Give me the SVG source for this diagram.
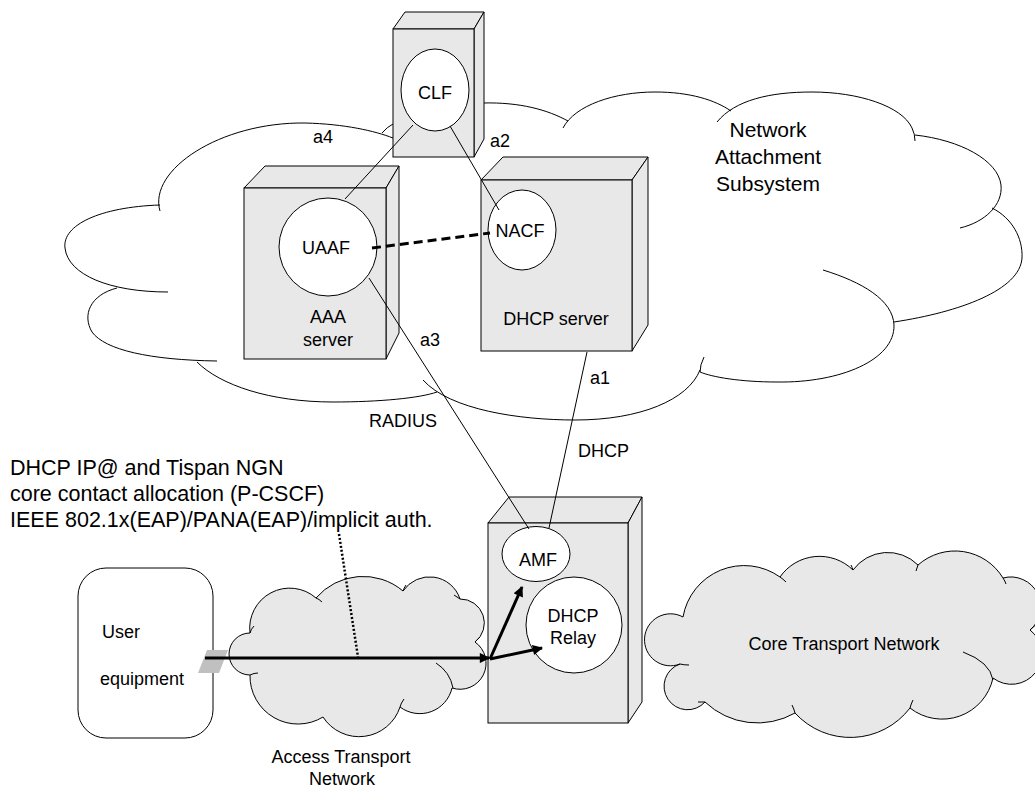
<svg xmlns="http://www.w3.org/2000/svg" width="1035" height="790" viewBox="0 0 1035 790">
<defs>
<style>
.box{fill:#e8e8e8;stroke:#000;stroke-width:1;stroke-linejoin:miter}
.fn{fill:#fff;stroke:#000;stroke-width:1}
.ln{fill:none;stroke:#000;stroke-width:1}
.cl{fill:#e8e8e8;stroke:#000;stroke-width:1}
.t{font-family:"Liberation Sans",Arial,Helvetica,sans-serif;font-size:18px;fill:#000}
.big{font-size:21px}
.note{font-size:21.5px}
.mid{text-anchor:middle}
.thick{fill:none;stroke:#000;stroke-width:3;marker-end:url(#ah)}
</style>
<marker id="ah" viewBox="0 0 10 10" refX="9" refY="5" markerWidth="4" markerHeight="3.4" orient="auto" markerUnits="strokeWidth">
<path d="M0,0 L10,5 L0,10 z" fill="#000"/>
</marker>
</defs>
<rect width="1035" height="790" fill="#fff"/>

<!-- Network Attachment Subsystem cloud -->
<g id="nas-cloud" class="ln">
<path d="M160,211 C148,170 220,122 305,123 C345,124 375,131 393,138"/>
<path d="M382,133 Q387,127 393,124"/>
<path d="M483,103 C520,102 548,110 568,121"/>
<path d="M563,128 C575,105 615,92 655,92 C690,92 715,100 731,111"/>
<path d="M717,122 C735,100 770,92 812,92 C858,92 902,106 912,128 Q915,134 915,141"/>
<path d="M915,135 C960,140 998,160 1001,185 C1003,205 985,222 960,228"/>
<path d="M992,208 C1012,218 1023,238 1022,258 C1020,290 960,312 894,322"/>
<path d="M823,270 C862,282 893,300 894,325 C895,360 840,383 777,382 C740,382 712,377 700,372 Q700,365 704,357"/>
<path d="M700,370 C688,400 640,420 575,420 C520,420 450,410 423,380"/>
<path d="M197,362 C220,385 270,402 333,402 C380,402 420,398 437,392"/>
<path d="M117,288 C90,295 82,315 92,332 C105,350 150,360 217,361"/>
<path d="M160,205 C100,207 62,225 65,248 C68,275 110,292 168,292"/>
</g>
<text class="t big mid" x="768" y="137">Network</text>
<text class="t big mid" x="768" y="164">Attachment</text>
<text class="t big mid" x="768" y="191">Subsystem</text>

<!-- Access transport cloud -->
<g id="access-cloud">
<path class="cl" d="M250,675 A21,21 0 0 1 250,633 A40,40 0 0 1 316,598 A62,62 0 0 1 403,591 A32,32 0 0 1 460,599 A24,24 0 0 1 475,642 A26,26 0 0 1 452,688 A33,33 0 0 1 400,707 A43,43 0 0 1 323,717 A48,48 0 0 1 250,675 Z"/>
<path class="ln" d="M250,633 Q251,629 254,626 M316,598 Q319,599 322,602 M403,591 Q404,588 406,585 M460,599 Q457,597 454,595 M475,642 Q477,640 480,637 M436,663 Q450,672 453,688 M400,707 Q401,703 404,699 M250,675 Q254,673 258,673"/>
<text class="t mid" x="341" y="763">Access Transport</text>
<text class="t mid" x="342" y="785">Network</text>
</g>

<!-- Core transport cloud -->
<g id="core-cloud">
<path class="cl" d="M683,617 A62,62 0 0 1 780,577 A48,48 0 0 1 853,570 A43,43 0 0 1 918,565 A56,56 0 0 1 1003,578 A30,30 0 0 1 1030,630 A30,30 0 0 1 993,678 A52,52 0 0 1 910,708 A75,75 0 0 1 795,713 A76,76 0 0 1 705,702 A23.5,23.5 0 1 1 680,664 A26,26 0 1 1 683,617 Z"/>
<path class="ln" d="M780,577 Q783,579 786,582 M853,570 Q852,567 851,565 M918,565 Q917,568 916,571 M1003,578 Q1005,581 1006,584 M1030,630 Q1034,626 1040,622 M963,652 Q990,662 993,680 M910,708 Q911,704 913,700 M795,713 Q794,709 792,705 M705,702 Q702,702 698,702 M680,664 Q684,665 689,665"/>
<text class="t mid" x="844" y="650">Core Transport Network</text>
</g>

<!-- CLF box -->
<g id="clf">
<polygon class="box" points="393,29 405,12 484,12 474,29"/>
<polygon class="box" points="474,29 484,12 484,139 474,157"/>
<rect class="box" x="393" y="29" width="81" height="128"/>
<ellipse class="fn" cx="435" cy="90" rx="34" ry="41"/>
<text class="t mid" x="435" y="99">CLF</text>
</g>

<!-- AAA server box -->
<g id="aaa">
<polygon class="box" points="244,188 265,166 399,166 386,188"/>
<polygon class="box" points="386,188 399,166 399,333 386,359"/>
<rect class="box" x="244" y="188" width="142" height="171"/>
<circle class="fn" cx="328" cy="247" r="49"/>
<text class="t mid" x="326" y="254">UAAF</text>
<text class="t mid" x="328" y="323">AAA</text>
<text class="t mid" x="328" y="346">server</text>
</g>

<!-- DHCP server box -->
<g id="dhcp-server">
<polygon class="box" points="481,180 503,157 648,157 632,180"/>
<polygon class="box" points="632,180 648,157 648,325 632,351"/>
<rect class="box" x="481" y="180" width="151" height="171"/>
<ellipse class="fn" cx="522" cy="230" rx="34" ry="40"/>
<text class="t mid" x="520" y="237">NACF</text>
<text class="t mid" x="556" y="325">DHCP server</text>
</g>

<!-- DHCP relay / AMF box -->
<g id="dhcp-relay">
<polygon class="box" points="488,523 509,497 642,497 628,523"/>
<polygon class="box" points="628,523 642,497 642,702 628,723"/>
<rect class="box" x="488" y="523" width="140" height="200"/>
<ellipse class="fn" cx="536" cy="554" rx="34" ry="27.5"/>
<text class="t mid" x="538" y="566">AMF</text>
<circle class="fn" cx="574" cy="625" r="48"/>
<text class="t mid" x="573" y="622">DHCP</text>
<text class="t mid" x="573" y="644">Relay</text>
</g>

<!-- User equipment -->
<g id="user-equipment">
<rect class="fn" x="78" y="568" width="135" height="170" rx="28" ry="28"/>
<text class="t" x="102" y="638">User</text>
<text class="t" x="100" y="685">equipment</text>
<polygon points="207,650 228,650 219,673 198,673" fill="#c0c0c0"/>
</g>

<!-- Connectors -->
<g id="connectors">
<line class="ln" x1="413" y1="125" x2="345" y2="199"/>
<line class="ln" x1="450" y1="126" x2="499" y2="210"/>
<line class="ln" x1="369" y1="278" x2="529" y2="529"/>
<line class="ln" x1="587" y1="352" x2="549" y2="528"/>
<line x1="372" y1="248" x2="490" y2="233" stroke="#000" stroke-width="3" stroke-dasharray="9 5"/>
<line x1="339" y1="534" x2="358" y2="657" stroke="#000" stroke-width="2.5" stroke-dasharray="2 2"/>
<line class="thick" x1="205" y1="658" x2="489" y2="658"/>
<line class="thick" x1="490" y1="659" x2="522" y2="587"/>
<line class="thick" x1="490" y1="659" x2="542" y2="648"/>
</g>

<!-- Labels -->
<g id="labels">
<text class="t" x="313" y="143">a4</text>
<text class="t" x="490" y="147">a2</text>
<text class="t" x="420" y="346">a3</text>
<text class="t" x="590" y="384">a1</text>
<text class="t" x="369" y="427">RADIUS</text>
<text class="t" x="578" y="457">DHCP</text>
<text class="t note" x="10" y="475">DHCP IP@ and Tispan NGN</text>
<text class="t note" x="10" y="501">core contact allocation (P-CSCF)</text>
<text class="t note" x="10" y="527">IEEE 802.1x(EAP)/PANA(EAP)/implicit auth.</text>
</g>
</svg>
